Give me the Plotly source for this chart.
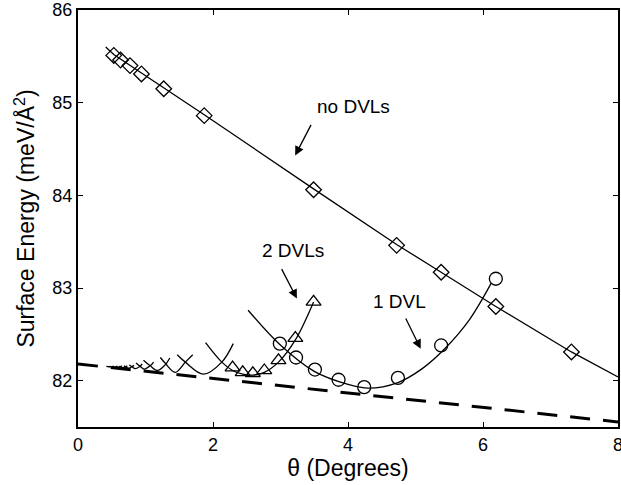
import plotly.graph_objects as go

# ---- data ----
nodvl_theta = [0.53, 0.63, 0.77, 0.94, 1.27, 1.87, 3.49, 4.72, 5.38, 6.19, 7.31]
nodvl_energy = [85.51, 85.46, 85.40, 85.31, 85.15, 84.86, 84.06, 83.46, 83.17, 82.80, 82.31]
nodvl_fit_theta = [0.41, 0.53, 0.94, 1.87, 3.49, 4.72, 5.38, 6.19, 7.31, 8.0]
nodvl_fit_energy = [85.60, 85.52, 85.32, 84.87, 84.07, 83.47, 83.17, 82.80, 82.31, 82.04]

dvl1_theta = [2.99, 3.23, 3.51, 3.86, 4.24, 4.74, 5.38, 6.19]
dvl1_energy = [82.40, 82.25, 82.12, 82.01, 81.93, 82.03, 82.38, 83.10]
dvl1_fit_theta = [2.52, 2.99, 3.50, 4.00, 4.30, 4.74, 5.10, 5.44, 5.80, 6.12]
dvl1_fit_energy = [82.76, 82.39, 82.10, 81.96, 81.92, 81.98, 82.13, 82.35, 82.66, 83.05]

dvl2_theta = [2.29, 2.44, 2.59, 2.76, 2.97, 3.22, 3.49]
dvl2_energy = [82.14, 82.09, 82.08, 82.11, 82.22, 82.46, 82.85]
dvl2_fit_theta = [1.89, 2.13, 2.29, 2.44, 2.59, 2.76, 2.97, 3.22, 3.49]
dvl2_fit_energy = [82.41, 82.20, 82.11, 82.07, 82.06, 82.09, 82.20, 82.44, 82.85]

dvl3_theta = [1.47, 1.59, 1.86, 2.13, 2.30]
dvl3_energy = [82.28, 82.20, 82.07, 82.20, 82.40]
dvl4_theta = [1.22, 1.29, 1.44, 1.59, 1.70]
dvl4_energy = [82.25, 82.19, 82.09, 82.20, 82.28]
dvl5_theta = [0.97, 1.07, 1.18, 1.29, 1.36]
dvl5_energy = [82.22, 82.16, 82.11, 82.17, 82.245]
dvl6_theta = [0.86, 0.92, 0.98, 1.07, 1.12]
dvl6_energy = [82.19, 82.155, 82.125, 82.16, 82.20]
dvl7_theta = [0.76, 0.80, 0.85, 0.92, 0.95]
dvl7_energy = [82.17, 82.15, 82.13, 82.155, 82.18]
dvl8_theta = [0.68, 0.71, 0.75, 0.80, 0.83]
dvl8_energy = [82.16, 82.145, 82.135, 82.15, 82.165]
dvl9_theta = [0.61, 0.67, 0.73]
dvl9_energy = [82.155, 82.14, 82.16]
dvl10_theta = [0.56, 0.60, 0.65]
dvl10_energy = [82.155, 82.145, 82.16]
dvl11_theta = [0.51, 0.545, 0.585]
dvl11_energy = [82.155, 82.147, 82.157]
dvl12_theta = [0.46, 0.50, 0.53]
dvl12_energy = [82.155, 82.148, 82.157]
dvl13_theta = [0.42, 0.46, 0.485]
dvl13_energy = [82.155, 82.15, 82.155]

envelope_theta = [0.0, 8.0]
envelope_energy = [82.18, 81.555]

x_ticks = [0, 2, 4, 6, 8]
y_ticks = [82, 83, 84, 85, 86]

FONT = "Liberation Sans, Arial, Helvetica, sans-serif"
BLACK = "black"

fig = go.Figure()

# envelope (dashed)
fig.add_trace(go.Scatter(x=envelope_theta, y=envelope_energy, mode="lines",
                         line=dict(color=BLACK, width=3, dash="20px,13px"),
                         showlegend=False, hoverinfo="skip"))

# small DVL curves
small_curves = [
    (dvl3_theta, dvl3_energy), (dvl4_theta, dvl4_energy), (dvl5_theta, dvl5_energy),
    (dvl6_theta, dvl6_energy), (dvl7_theta, dvl7_energy), (dvl8_theta, dvl8_energy),
    (dvl9_theta, dvl9_energy), (dvl10_theta, dvl10_energy), (dvl11_theta, dvl11_energy),
    (dvl12_theta, dvl12_energy), (dvl13_theta, dvl13_energy),
]
for tx, ey in small_curves:
    fig.add_trace(go.Scatter(x=tx, y=ey, mode="lines",
                             line=dict(color=BLACK, width=1.3, shape="spline"),
                             showlegend=False, hoverinfo="skip"))

# fitted lines
fig.add_trace(go.Scatter(x=nodvl_fit_theta, y=nodvl_fit_energy, mode="lines",
                         line=dict(color=BLACK, width=1.3), showlegend=False))
fig.add_trace(go.Scatter(x=dvl1_fit_theta, y=dvl1_fit_energy, mode="lines",
                         line=dict(color=BLACK, width=1.3, shape="spline"), showlegend=False))
fig.add_trace(go.Scatter(x=dvl2_fit_theta, y=dvl2_fit_energy, mode="lines",
                         line=dict(color=BLACK, width=1.3, shape="spline"), showlegend=False))

# markers
fig.add_trace(go.Scatter(x=nodvl_theta, y=nodvl_energy, mode="markers",
                         marker=dict(symbol="diamond-open", size=12, color=BLACK,
                                     line=dict(width=1.3, color=BLACK)),
                         showlegend=False))
fig.add_trace(go.Scatter(x=dvl1_theta, y=dvl1_energy, mode="markers",
                         marker=dict(symbol="circle-open", size=13, color=BLACK,
                                     line=dict(width=1.3, color=BLACK)),
                         showlegend=False))
fig.add_trace(go.Scatter(x=dvl2_theta, y=dvl2_energy, mode="markers",
                         marker=dict(symbol="triangle-up-open", size=13, color=BLACK,
                                     line=dict(width=1.3, color=BLACK)),
                         showlegend=False))

# annotations: text, text pos, arrow head, arrow tail
labels = [
    ("no DVLs", 4.076, 84.964, 3.217, 84.43, 3.464, 84.777),
    ("2 DVLs", 3.19, 83.40, 3.243, 82.886, 3.006, 83.22),
    ("1 DVL", 4.77, 82.857, 5.077, 82.344, 4.845, 82.687),
]
for text, tx, ty, hx, hy, sx, sy in labels:
    fig.add_annotation(x=tx, y=ty, text=text, showarrow=False,
                       font=dict(family=FONT, size=19, color=BLACK))
    fig.add_annotation(x=hx, y=hy, ax=sx, ay=sy, xref="x", yref="y",
                       axref="x", ayref="y", text="", showarrow=True,
                       arrowhead=2, arrowsize=1.4, arrowwidth=1.3,
                       arrowcolor=BLACK, standoff=0)

axis_common = dict(showline=True, linecolor=BLACK, linewidth=2, mirror="ticks",
                   ticks="inside", ticklen=5, tickwidth=1.3, tickcolor=BLACK,
                   showgrid=False, zeroline=False, ticklabeloverflow="allow",
                   tickfont=dict(family=FONT, size=18, color=BLACK), automargin=False)

fig.update_layout(
    width=621, height=485,
    margin=dict(l=78, r=3, t=10, b=58),
    paper_bgcolor="white", plot_bgcolor="white",
    template="none",
    font=dict(family=FONT, color=BLACK),
    xaxis=dict(range=[0, 8], tickvals=x_ticks,
               title=dict(text="θ (Degrees)", font=dict(family=FONT, size=23, color=BLACK), standoff=3),
               **axis_common),
    yaxis=dict(range=[81.5, 86], tickvals=y_ticks,
               title=dict(text="Surface Energy (meV/Å<sup>2</sup>)", font=dict(family=FONT, size=23, color=BLACK), standoff=11),
               **axis_common),
)

# remove the default page margin so the figure fills the window exactly
fig.write_html("out.html", config={"displayModeBar": False},
               post_script="document.body.style.margin='0px';")
